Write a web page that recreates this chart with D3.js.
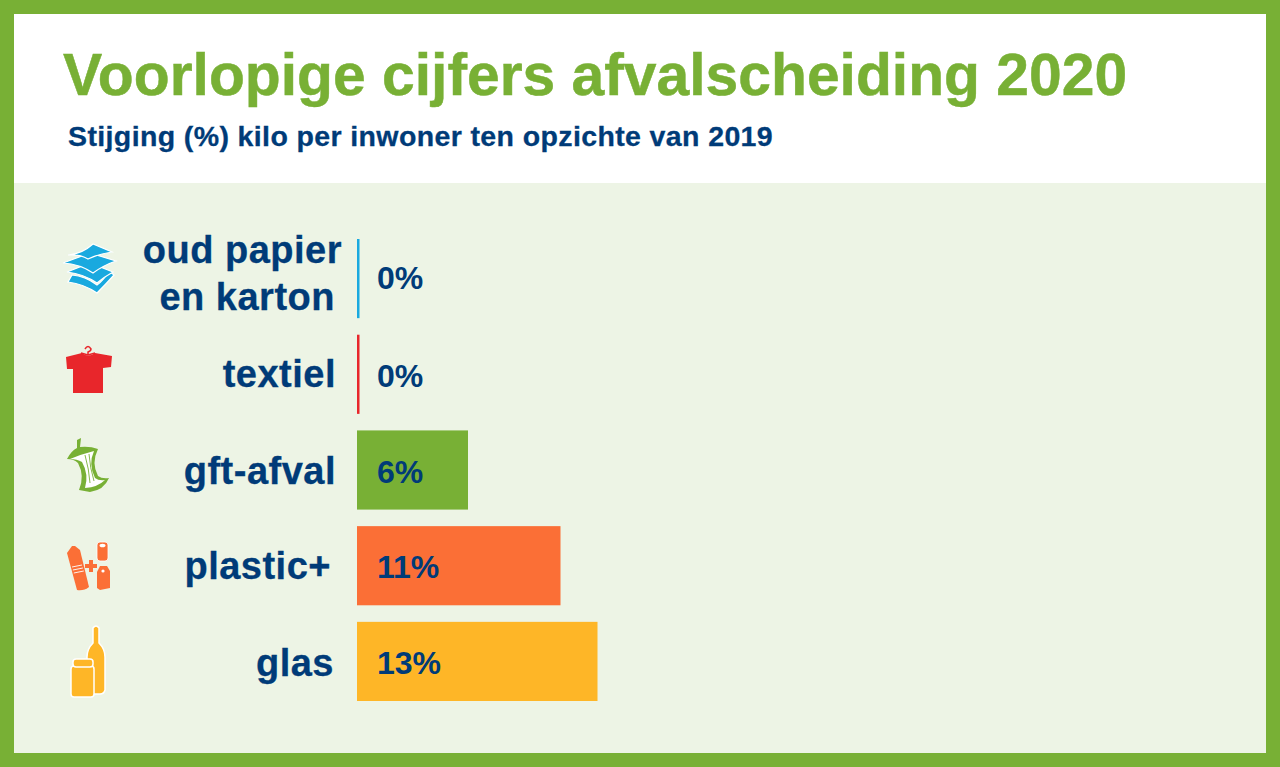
<!DOCTYPE html>
<html lang="en">
<head>
<meta charset="UTF-8">
<title>Voorlopige cijfers afvalscheiding 2020</title>
<script src="https://d3js.org/d3.v7.min.js"></script>
<style>
    html, body { margin: 0; padding: 0; background: #fff; }
    svg { display: block; }
    text { font-family: "Liberation Sans", Arial, sans-serif; font-weight: bold; }
</style>
</head>
<body>
<svg id="chart" width="1280" height="767"></svg>
<script>
const categories = ["oud papier|en karton", "textiel", "gft-afval", "plastic+", "glas"];
const values = [0, 0, 6, 11, 13];
const valueLabels = ["0%", "0%", "6%", "11%", "13%"];
const barColors = ["#19a9df", "#e8262b", "#78b035", "#fb6f36", "#feb627"];

const title = "Voorlopige cijfers afvalscheiding 2020";
const subtitle = "Stijging (%) kilo per inwoner ten opzichte van 2019";

const navy = "#003b78", green = "#78b035", pale = "#edf4e5";

const svg = d3.select("#chart");

// frame + panels
svg.append("rect").attr("width", 1280).attr("height", 767).attr("fill", green);
svg.append("rect").attr("x", 14).attr("y", 14).attr("width", 1252).attr("height", 169).attr("fill", "#fff");
svg.append("rect").attr("x", 14).attr("y", 183).attr("width", 1252).attr("height", 570).attr("fill", pale);

svg.append("text").attr("x", 63).attr("y", 95).attr("font-size", 58.8)
    .attr("fill", green).attr("stroke", green).attr("stroke-width", 0.5).text(title);
svg.append("text").attr("x", 68).attr("y", 146).attr("font-size", 28.5)
    .attr("letter-spacing", 0.38).attr("fill", navy).attr("stroke", navy).attr("stroke-width", 0.3).text(subtitle);

const x = d3.scaleLinear().domain([0, 13]).range([357, 597.5]);
const y = d3.scaleBand().domain(categories).range([239, 701]).paddingInner(0.173);

// bars, a zero value still shows as a thin line
const rows = svg.selectAll("g.row").data(categories).enter().append("g").attr("class", "row");

rows.append("rect")
    .attr("x", x(0))
    .attr("y", d => y(d))
    .attr("width", (d, i) => Math.max(x(values[i]) - x(0), 2.5))
    .attr("height", y.bandwidth())
    .attr("fill", (d, i) => barColors[i]);

rows.append("text")
    .attr("x", 377)
    .attr("y", (d, i) => y(d) + y.bandwidth() / 2 + 12 + (i === 0 ? -2 : 0.5))
    .attr("font-size", 32)
    .attr("fill", navy)
    .text((d, i) => valueLabels[i]);

// category labels are hand placed in the original, right edges differ a bit
const labelRight = [[342, 335], [336], [336], [331], [334]];
const labelNudge = [-5, 0, 1, 0, 2];
rows.each(function (d, i) {
    const lines = d.split("|");
    const mid = y(d) + y.bandwidth() / 2;
    lines.forEach((line, k) => {
        d3.select(this).append("text")
            .attr("x", labelRight[i][k])
            .attr("y", mid + 13 + labelNudge[i] + (k - (lines.length - 1) / 2) * 47)
            .attr("text-anchor", "end")
            .attr("font-size", 38)
            .attr("letter-spacing", 0.5)
            .attr("fill", navy)
            .attr("stroke", navy)
            .attr("stroke-width", 0.3)
            .text(line);
    });
});

// icons
const icons = svg.append("g");

// paper stack, drawn bottom sheet first
const paper = icons.append("g").attr("transform", "translate(90,268)");
[
    "M-22,14 L-18,7 Q-5,8 7,17 Q14,12 19,3 L24,7 Q16,16 7,25 Q-6,16 -22,14Z",
    "M-23,4 L0,-5 L23,4 Q14,9 7,15 Q-6,6 -23,4Z",
    "M-27,-5 L0,-15 L26,-7 Q14,-3 3,5 Q-10,-4 -27,-5Z",
    "M-22,-13 Q-8,-14 3,-24 L22,-16 Q8,-14 -2,-9 Q-10,-14 -22,-13Z"
].forEach(p => paper.append("path").attr("d", p)
    .attr("fill", barColors[0]).attr("stroke", "#fff").attr("stroke-width", 1.2));

// t-shirt
const shirt = icons.append("g").attr("transform", "translate(88,370)");
shirt.append("path")
    .attr("d", "M-6,-17 Q0,-12 7,-17 L24,-14 L23,-3 L15,-2 L15,23 L-15,23 L-15,-1 L-21,-1 L-22,-13Z")
    .attr("fill", barColors[1]);
shirt.append("path")
    .attr("d", "M-3,-21 Q0,-26 3,-21 Q3,-19 0,-18 L0,-15 M0,-15 L-7,-17 M0,-15 L7,-17")
    .attr("fill", "none").attr("stroke", barColors[1]).attr("stroke-width", 1.5);

// apple core
const core = icons.append("g").attr("transform", "translate(88,466)");
core.append("path")
    .attr("d", "M-11,-18 L-11,-26 L-7,-28 L-8,-19 Q2,-20 10,-17 Q3,-3 10,10 Q14,13 21,12 Q16,24 2,26 L-9,24 Q-3,10 -10,-3 Q-14,-7 -21,-7 Q-17,-15 -11,-18Z")
    .attr("fill", barColors[2]);
core.append("path")
    .attr("d", "M-18,-7 Q-6,-12 6,-15 Q0,-2 7,12 Q11,15 17,14 Q10,21 -3,22 Q1,8 -6,-4 Q-11,-7 -18,-7Z")
    .attr("fill", "#fff");
core.append("path")
    .attr("d", "M-3,-11 Q1,3 2,17 M1,-12 Q2,2 6,15")
    .attr("fill", "none").attr("stroke", barColors[2]).attr("stroke-width", 0.9);

// bottle, can, carton
const pack = icons.append("g").attr("transform", "translate(88,568)").attr("fill", barColors[3]);
pack.append("path")
    .attr("d", "M-16,-22 L-13,-22 L-8,-18 L1,19 Q-4,23 -11,22 L-21,-15Z");
[0, 3, 6].forEach(k => pack.append("line")
    .attr("x1", -16 + k * 0.3).attr("x2", -6 + k * 0.3)
    .attr("y1", -1 + k).attr("y2", -3 + k)
    .attr("stroke", "#fff").attr("stroke-width", 0.9));
pack.append("rect").attr("x", 9).attr("y", -26).attr("width", 11).attr("height", 19).attr("rx", 3)
    .attr("stroke", "#fff").attr("stroke-width", 0.8);
pack.append("ellipse").attr("cx", 14.5).attr("cy", -22.5).attr("rx", 3).attr("ry", 1.8).attr("fill", "#fff");
pack.append("path").attr("d", "M1,-8 H5 V-4 H9 V0 H5 V4 H1 V0 H-3 V-4 H1Z");
pack.append("path").attr("d", "M9,4 L12,-2 L19,-2 L22,3 L22,20 L12,22 L9,20Z");
pack.append("circle").attr("cx", 15).attr("cy", 3).attr("r", 1.6).attr("fill", "#fff");

// bottle + jar
const glass = icons.append("g").attr("transform", "translate(88,660)")
    .attr("fill", barColors[4]).attr("stroke", "#fff").attr("stroke-width", 1.5);
glass.append("path")
    .attr("d", "M5,-32 Q8,-36 11,-32 L11,-17 Q17,-11 17,-3 L17,30 Q16,34 12,34 L-1,34 L-1,-3 Q-1,-11 5,-17Z");
glass.append("rect").attr("x", -17).attr("y", 6).attr("width", 23).attr("height", 31).attr("rx", 3);
glass.append("rect").attr("x", -15).attr("y", -1).attr("width", 20).attr("height", 8).attr("rx", 3);
</script>
</body>
</html>
